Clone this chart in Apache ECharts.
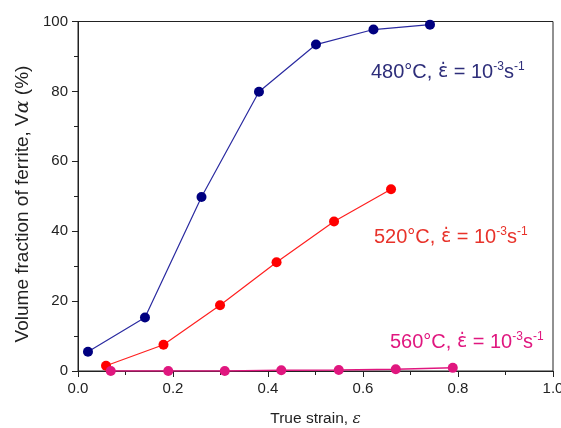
<!DOCTYPE html>
<html><head><meta charset="utf-8">
<script src="https://cdn.jsdelivr.net/npm/echarts@6/dist/echarts.min.js"></script>
<style>html,body{margin:0;padding:0;background:#fff}#c{width:561px;height:428px}</style>
</head><body><div id="c"></div>
<script>
const strain480 = [0.021, 0.141, 0.26, 0.381, 0.501, 0.622, 0.741];
const vf480 = [5.5, 15.3, 49.8, 79.9, 93.4, 97.7, 99.1];
const strain520 = [0.059, 0.18, 0.299, 0.418, 0.539, 0.659];
const vf520 = [1.5, 7.5, 18.8, 31.1, 42.8, 52.0];
const strain560 = [0.069, 0.19, 0.309, 0.428, 0.549, 0.669, 0.789];
const vf560 = [0, 0, 0, 0.2, 0.3, 0.5, 0.9];
const xTicks = [0, 0.2, 0.4, 0.6, 0.8, 1.0];
const yTicks = [0, 20, 40, 60, 80, 100];

const FONT = 'Liberation Sans';
const pairs = (xs, ys) => xs.map((x, i) => [x, ys[i]]);

function annot(color) {
  return {
    n: {fontFamily: FONT, fontSize: 20, fill: color, lineHeight: 22},
    e: {fontFamily: 'DejaVu Sans', fontSize: 19, fill: color, lineHeight: 22},
    s: {fontFamily: FONT, fontSize: 12, fill: color, lineHeight: 12, verticalAlign: 'top'}
  };
}
const label = '{n|°C, }{e|ε̇}{n| = 10}{s|-3}{n|s}{s|-1}';

const chart = echarts.init(document.getElementById('c'), null, {renderer: 'canvas'});
chart.setOption({
  animation: false,
  backgroundColor: '#fff',
  grid: {left: 78, right: 8, top: 21.5, bottom: 57, show: true, borderColor: '#222', borderWidth: 1,
         outerBoundsMode: 'none', containLabel: false},
  xAxis: {
    type: 'value', min: 0, max: 1, interval: 0.2,
    axisLine: {show: true, lineStyle: {color: '#222', width: 1}},
    axisTick: {show: true, inside: false, length: 6, lineStyle: {color: '#222'}},
    minorTick: {show: true, splitNumber: 2, length: 4, lineStyle: {color: '#222'}},
    splitLine: {show: false},
    axisLabel: {fontFamily: FONT, fontSize: 15, color: '#222', margin: 10,
      formatter: v => xTicks.some(t => Math.abs(t - v) < 1e-9) ? v.toFixed(1) : ''},
    name: '{n|True strain, }{i|ε}', nameLocation: 'middle', nameGap: 40,
    nameTextStyle: {rich: {
      n: {fontFamily: FONT, fontSize: 15.5, color: '#222'},
      i: {fontFamily: 'DejaVu Serif', fontStyle: 'italic', fontSize: 15.5, color: '#222'}
    }}
  },
  yAxis: {
    type: 'value', min: 0, max: 100, interval: 20,
    axisLine: {show: true, lineStyle: {color: '#222', width: 1}},
    axisTick: {show: true, inside: false, length: 6, lineStyle: {color: '#222'}},
    minorTick: {show: true, splitNumber: 2, length: 4, lineStyle: {color: '#222'}},
    splitLine: {show: false},
    axisLabel: {fontFamily: FONT, fontSize: 15, color: '#222', margin: 10,
      formatter: v => yTicks.includes(v) ? String(v) : ''}
  },
  series: [
    {type: 'line', data: pairs(strain480, vf480), symbol: 'circle', symbolSize: 10,
     lineStyle: {color: '#2a2aa0', width: 1.2}, itemStyle: {color: '#000080'}},
    {type: 'line', data: pairs(strain520, vf520), symbol: 'circle', symbolSize: 10,
     lineStyle: {color: '#ff2020', width: 1.2}, itemStyle: {color: '#ff0000'}},
    {type: 'line', data: pairs(strain560, vf560), symbol: 'circle', symbolSize: 10,
     lineStyle: {color: '#e0177f', width: 1.5}, itemStyle: {color: '#e0177f'}}
  ],
  graphic: [
    {type: 'text', x: 23, y: 204, rotation: Math.PI / 2,
     style: {text: '{n|Volume fraction of ferrite, V}{i|α}{n| (%)}', align: 'center', verticalAlign: 'middle',
       rich: {
         n: {fontFamily: FONT, fontSize: 19, fill: '#222'},
         i: {fontFamily: 'DejaVu Serif', fontStyle: 'italic', fontSize: 19, fill: '#222'}
       }}},
    {type: 'text', left: 371, top: 61, style: {text: '{n|480}' + label, rich: annot('#2e2e7a')}},
    {type: 'text', left: 374, top: 226, style: {text: '{n|520}' + label, rich: annot('#e8322a')}},
    {type: 'text', left: 390, top: 331, style: {text: '{n|560}' + label, rich: annot('#e0177f')}}
  ]
});
</script></body></html>
